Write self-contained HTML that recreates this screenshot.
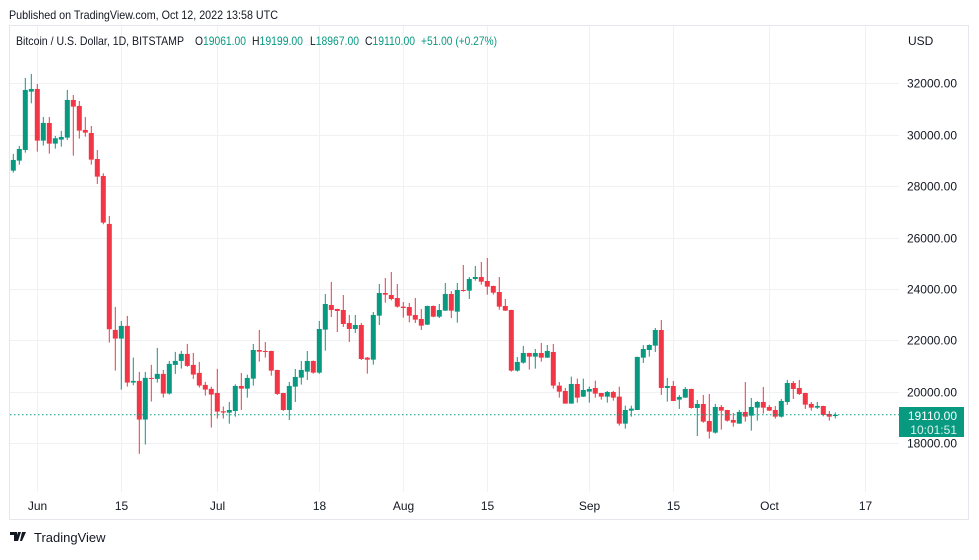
<!DOCTYPE html>
<html><head><meta charset="utf-8"><style>
html,body{margin:0;padding:0;background:#fff;}
body{width:979px;height:555px;overflow:hidden;font-family:"Liberation Sans",sans-serif;}
svg text{font-family:"Liberation Sans",sans-serif;}
</style></head><body>
<svg id="chart" width="979" height="555" xmlns="http://www.w3.org/2000/svg">
<text x="9" y="19" font-size="12" fill="#131722" textLength="269" lengthAdjust="spacingAndGlyphs">Published on TradingView.com, Oct 12, 2022 13:58 UTC</text>
<rect x="9.5" y="25.5" width="959" height="494" fill="none" stroke="#e6e7ec"/>
<g id="grid"></g>
<g id="candles"></g>
<line id="pline" x1="10" x2="899" stroke="#089981" stroke-dasharray="1.5,2.5"/>
<g id="yaxis"></g>
<g id="xaxis"></g>
<text x="908" y="45" font-size="12" fill="#131722">USD</text>
<g font-size="12">
<text x="16" y="45" fill="#131722" textLength="168" lengthAdjust="spacingAndGlyphs">Bitcoin / U.S. Dollar, 1D, BITSTAMP</text>
<text x="195" y="45" fill="#131722" textLength="51" lengthAdjust="spacingAndGlyphs">O<tspan fill="#089981">19061.00</tspan></text>
<text x="252" y="45" fill="#131722" textLength="51" lengthAdjust="spacingAndGlyphs">H<tspan fill="#089981">19199.00</tspan></text>
<text x="310" y="45" fill="#131722" textLength="49" lengthAdjust="spacingAndGlyphs">L<tspan fill="#089981">18967.00</tspan></text>
<text x="365" y="45" fill="#131722" textLength="50" lengthAdjust="spacingAndGlyphs">C<tspan fill="#089981">19110.00</tspan></text>
<text x="421" y="45" fill="#089981" textLength="76" lengthAdjust="spacingAndGlyphs">+51.00 (+0.27%)</text>
</g>
<g>
<rect x="899" y="407" width="65" height="30" fill="#089981"/>
<text x="957" y="420" font-size="12" fill="#fff" text-anchor="end">19110.00</text>
<text x="957" y="434" font-size="12" fill="#d9f2ec" text-anchor="end">10:01:51</text>
</g>
<g>
<path d="M10 532h7v9h-3v-6h-4z M18 532h3l-3 9h-3z M22 532h4l-4 9h-2z" fill="#131722"/>
<text x="34" y="542" font-size="13" fill="#131722">TradingView</text>
</g>
</svg>
<script>
// candles: open, high, low, close; index 0 = 2022-05-28
const opens=[28604,28993,29408,31676,31780,29771,30458,29654,29810,29887,31352,31119,30186,30069,29058,28397,26531,22410,22073,22565,20362,20427,18924,20543,20504,20699,19934,21049,21204,21476,21049,20738,20271,20116,19957,19245,19193,19257,20230,20126,20515,21629,21590,21590,20852,19957,19296,20204,20554,20787,21202,20748,22420,23379,23224,23185,22679,22446,22601,21331,21253,22964,23845,23768,23651,23314,23301,22990,22835,22614,23340,22925,23159,23807,23120,23962,23936,24390,24467,24312,24118,23884,23340,23185,20826,21137,21513,21370,21513,21331,21551,20243,20035,19543,20307,19815,20009,20152,19957,19815,19996,19815,18765,19270,19296,21331,21629,21798,22407,20152,20229,19698,19776,20113,19374,19530,18869,18415,19413,19296,18908,18765,19219,19076,19387,19607,19413,19296,19037,19607,20346,20152,19957,19530,19387,19452,19141,19061];
const highs=[29253,29564,32207,32363,31974,30691,30691,29952,30147,31741,31546,31313,30691,30341,29408,28501,26842,23304,22760,22954,21334,20777,20777,21049,21710,20855,21204,21554,21593,21865,21515,21166,20388,20200,20894,19429,19607,20294,20735,20670,21863,22407,21940,21600,20860,19960,20385,20890,21202,21590,21220,22757,23807,24273,23230,23768,22990,22990,22679,21357,23107,24195,24428,24662,24195,23495,23457,23651,23223,23350,23360,23418,24234,23923,24234,24934,24467,24895,25051,25206,24130,24467,23612,23190,21357,21785,21520,21668,21901,21824,21863,20385,20152,20593,20515,20515,20204,20437,19960,20035,20035,20204,19465,19465,21370,21823,21850,22484,22795,20540,20424,19879,20191,20120,19685,19879,19918,19530,19491,19300,19180,19296,20385,19763,19646,20191,19491,19452,19724,20463,20424,20463,19960,19607,19607,19460,19257,19199];
const lows=[28527,28838,29304,31222,29343,29576,29265,29460,29538,29800,29188,29849,29926,28838,28086,26518,21917,20829,20090,20206,20258,17589,17952,19624,20362,19779,19895,20699,20906,20971,20504,20167,19857,18613,18963,18963,18765,19037,19296,19776,20243,21176,21331,20631,19880,19257,18908,19607,20281,20463,20710,20700,21603,22912,22329,22524,21940,22290,21240,20709,21059,22601,23470,23560,23275,22886,22705,22679,22407,22600,22900,22873,23150,22873,22692,23897,23612,24325,24169,23781,23781,23197,23150,20787,20787,21098,20865,20904,21176,21320,20126,19776,19540,19540,19581,19800,19581,19776,19698,19581,19659,18687,18571,19037,19290,21124,21370,21551,19879,19620,19640,19335,19770,19348,18285,18800,18182,18376,18532,18843,18648,18760,18843,18493,18882,19154,19260,18960,18998,19491,19724,19879,19335,19270,19335,19050,18882,18967];
const closes=[29019,29447,31741,31780,29771,30458,29654,29862,29913,31352,31093,30160,30082,29032,28371,26583,22436,22073,22565,20362,20427,18924,20543,20504,20699,19934,21088,21204,21476,21010,20673,20245,20090,19895,19234,19196,19296,20230,20126,20541,21629,21564,21564,20826,19919,19296,20230,20580,20852,21202,20748,22446,23418,23185,23146,22640,22446,22601,21279,21253,22990,23845,23780,23612,23314,23262,22964,22809,22575,23340,22925,23185,23807,23159,23962,23923,24390,24467,24286,24092,23858,23314,23159,20826,21163,21513,21370,21513,21331,21590,20243,20009,19543,20307,19776,20074,20113,19932,19815,19996,19776,18765,19296,19348,21357,21668,21823,22407,20152,20229,19646,19802,20113,19374,19530,18843,18454,19413,19270,18882,18804,19219,19037,19413,19607,19387,19270,19037,19646,20346,20113,19918,19504,19387,19452,19102,19037,19110];
const yTicks=[18000,20000,22000,24000,26000,28000,30000,32000];
const xTickLabels=["Jun","15","Jul","18","Aug","15","Sep","15","Oct","17"];
const xTickDays=[4,18,34,51,65,79,96,110,126,142];
const lastPrice=19110;

const NS="http://www.w3.org/2000/svg";
function yScale(v){return 83.3+(32000-v)*0.0257143;}
function xScale(i){return 13.3+i*6.0;}
function mk(tag,attrs,parent){const e=document.createElementNS(NS,tag);for(const k in attrs)e.setAttribute(k,attrs[k]);parent.appendChild(e);return e;}
const grid=document.getElementById('grid'),cg=document.getElementById('candles'),ya=document.getElementById('yaxis'),xa=document.getElementById('xaxis');
yTicks.forEach(v=>{
  const y=Math.round(yScale(v))+0.5;
  const l=mk('line',{x1:10,x2:899,y1:y,y2:y,stroke:'#f0f1f4'},grid);
  
  
  const t=mk('text',{x:957,y:y+4,'font-size':12,fill:'#131722','text-anchor':'end'},ya);
  t.textContent=v.toFixed(2);
  
  
});
xTickDays.forEach((d,k)=>{
  const x=Math.round(xScale(d))+0.5;
  const l=mk('line',{x1:x,x2:x,y1:26,y2:492,stroke:'#f0f1f4'},grid);
  
  
  const t=mk('text',{x:x,y:510,'font-size':12,fill:'#131722','text-anchor':'middle'},xa);
  t.textContent=xTickLabels[k];
  
  
});
opens.forEach((o,i)=>{
  const c=closes[i],h=highs[i],lo=lows[i];
  const col=c>=o?'#089981':'#f23645';
  const x=xScale(i);
  const g=mk('g',{},cg);
  
  
  mk('line',{x1:x,x2:x,y1:yScale(h),y2:yScale(lo),stroke:col,'stroke-width':1},g);
  const top=yScale(Math.max(o,c)),bot=yScale(Math.min(o,c));
  mk('rect',{x:x-2.5,y:top,width:5,height:Math.max(1,bot-top),fill:col},g);
});
const pl=document.getElementById('pline');
pl.setAttribute('y1',yScale(lastPrice));pl.setAttribute('y2',yScale(lastPrice));
</script>
</body></html>
